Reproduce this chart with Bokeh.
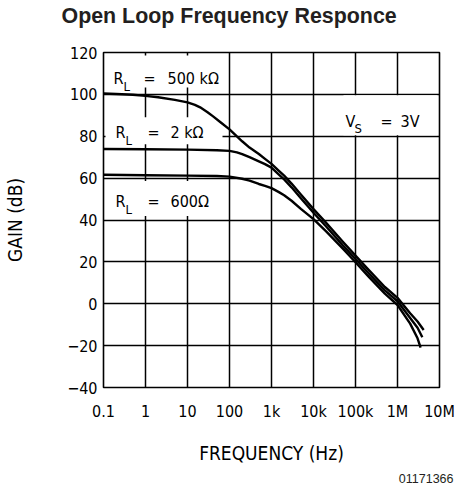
import numpy as np
from bokeh.plotting import figure
from bokeh.models import FixedTicker, Label, BoxAnnotation, Range1d, Title
from bokeh.embed import file_html
from bokeh.resources import INLINE

# ---------------- data ----------------
freq_500k = [0.1, 0.2, 0.5, 1, 2, 5, 10, 15, 20, 30, 40, 60, 100, 150, 200, 300, 500, 700,
             1e3, 1.5e3, 2e3, 3e3, 5e3, 1e4, 2e4, 5e4, 1e5, 2e5, 5e5, 1e6, 2e6, 3e6, 4.2e6]
gain_500k = [100.4, 100.2, 99.8, 99.3, 98.6, 97.4, 96.2, 95.0, 93.8, 91.5, 89.6, 86.8, 83.3, 79.9, 77.6, 74.6, 71.5, 69.2,
             66.8, 63.5, 61.2, 57.4, 52.2, 45.2, 38.6, 29.6, 23.0, 16.4, 8.0, 2.8, -4.5, -8.5, -12.5]

freq_2k = [0.1, 1, 10, 50, 100, 150, 200, 300, 500, 700,
           1e3, 1.5e3, 2e3, 3e3, 5e3, 1e4, 2e4, 5e4, 1e5, 2e5, 5e5, 1e6, 2e6, 3e6, 3.9e6]
gain_2k = [73.9, 73.8, 73.6, 73.3, 73.0, 72.3, 71.5, 70.0, 68.0, 66.7,
           65.0, 61.7, 59.4, 55.6, 50.4, 43.5, 36.9, 27.9, 21.4, 14.8, 6.4, 1.2, -6.8, -11.5, -16.0]

freq_600 = [0.1, 1, 10, 50, 100, 200, 300, 500, 700,
            1e3, 1.5e3, 2e3, 3e3, 5e3, 1e4, 2e4, 5e4, 1e5, 2e5, 5e5, 1e6, 2e6, 3e6, 3.55e6]
gain_600 = [61.6, 61.4, 61.2, 61.0, 60.7, 59.7, 58.8, 57.2, 56.3,
            55.2, 53.3, 51.8, 49.2, 45.3, 40.4, 34.6, 26.3, 19.8, 13.2, 4.8, -0.6, -9.5, -16.5, -21.0]

x_ticks = [0.1, 1, 10, 100, 1e3, 1e4, 1e5, 1e6, 1e7]
x_tick_labels = ["0.1", "1", "10", "100", "1k", "10k", "100k", "1M", "10M"]
y_ticks = [-40, -20, 0, 20, 40, 60, 80, 100, 120]
y_tick_labels = ["\u221240", "\u221220", "0", "20", "40", "60", "80", "100", "120"]

title_text = "Open Loop Frequency Responce"
x_title = "FREQUENCY (Hz)"
y_title = "GAIN (dB)"
fig_code = "01171366"

# ---------------- layout helpers (canvas pixel -> data) ----------------
FONT = "DejaVu Sans Condensed, DejaVu Sans"


def X(px):
    return 10 ** ((px - 103.0) / 42.0 - 1.0)


def Y(py):
    return (303.0 - py) / 2.1


p = figure(width=456, height=488, x_axis_type="log",
           x_range=Range1d(0.1, 1e7), y_range=Range1d(-40, 120),
           output_backend="svg", toolbar_location=None,
           min_border_left=103, min_border_right=17,
           min_border_top=51, min_border_bottom=101)

p.background_fill_color = "white"
p.border_fill_color = "white"
p.outline_line_color = "black"
p.outline_line_width = 1.6

# title (a blank second line lifts the text away from the frame)
p.title.text = title_text + "\n "
p.title.text_font = "Liberation Sans"
p.title.text_font_style = "bold"
p.title.text_font_size = "21.4px"
p.title.text_color = "#231f20"
p.title.align = "left"
p.title.offset = -42
p.title.vertical_align = "bottom"
p.title.standoff = 2

p.xaxis.ticker = FixedTicker(ticks=x_ticks)
p.yaxis.ticker = FixedTicker(ticks=y_ticks)
p.xaxis.major_label_overrides = dict(zip(x_ticks, x_tick_labels))
p.yaxis.major_label_overrides = dict(zip(y_ticks, y_tick_labels))

for ax in (p.xaxis, p.yaxis):
    ax.axis_line_color = None
    ax.major_tick_line_color = None
    ax.minor_tick_line_color = None
    ax.major_tick_out = 0
    ax.major_tick_in = 0
    ax.major_label_text_font = FONT
    ax.major_label_text_font_size = "16px"
    ax.major_label_text_color = "black"
    ax.axis_label_text_font = FONT
    ax.axis_label_text_font_size = "19px"
    ax.axis_label_text_font_style = "normal"
    ax.axis_label_text_color = "black"
p.xaxis.major_label_standoff = 14
p.yaxis.major_label_standoff = 6
p.xaxis.axis_label = x_title
p.yaxis.axis_label = y_title
p.xaxis.axis_label_standoff = 18
p.yaxis.axis_label_standoff = 38

code_title = Title(text=fig_code, align="right", offset=-14, standoff=11,
                   text_font="Liberation Sans", text_font_size="12.5px",
                   text_font_style="normal", text_color="#231f20")
p.add_layout(code_title, "below")

p.grid.grid_line_color = "black"
p.grid.grid_line_width = 1.5
p.grid.grid_line_alpha = 1.0

# white boxes behind the in-plot labels (hide the grid there)
for (l, r, t, b) in [(105, 227, 54, 86), (105, 222, 116, 143),
                     (105, 224, 180, 215), (343, 437, 94, 134)]:
    p.add_layout(BoxAnnotation(left=X(l), right=X(r), top=Y(t), bottom=Y(b),
                               fill_color="white", fill_alpha=1.0,
                               line_color=None, level="underlay"))

for fx, gy in [(freq_500k, gain_500k), (freq_2k, gain_2k), (freq_600, gain_600)]:
    p.line(fx, gy, line_color="black", line_width=2.4, line_join="round")


def lab(text, px, py, size, align="left"):
    p.add_layout(Label(x=X(px), y=Y(py), text=text, text_font=FONT,
                       text_font_size=size, text_color="black",
                       text_align=align, text_baseline="alphabetic"))


# R_L = 500 kΩ
lab("R", 113, 77, "16px")
lab("L", 123, 85, "13px")
lab("=", 143, 77, "16px")
lab("500 kΩ", 167, 77, "16px")
# R_L = 2 kΩ
lab("R", 115, 131.5, "16px")
lab("L", 125, 139, "13px")
lab("=", 147, 131.5, "16px")
lab("2 kΩ", 170, 131.5, "16px")
# R_L = 600 Ω
lab("R", 115, 200.5, "16px")
lab("L", 125, 208, "13px")
lab("=", 147, 200.5, "16px")
lab("600Ω", 170, 200.5, "16px")
# V_S = 3V
lab("V", 345, 120, "16px")
lab("S", 354, 127.5, "13px")
lab("=", 380, 120, "16px")
lab("3V", 400, 120, "16px")

open("out.html", "w").write(file_html(p, INLINE))
